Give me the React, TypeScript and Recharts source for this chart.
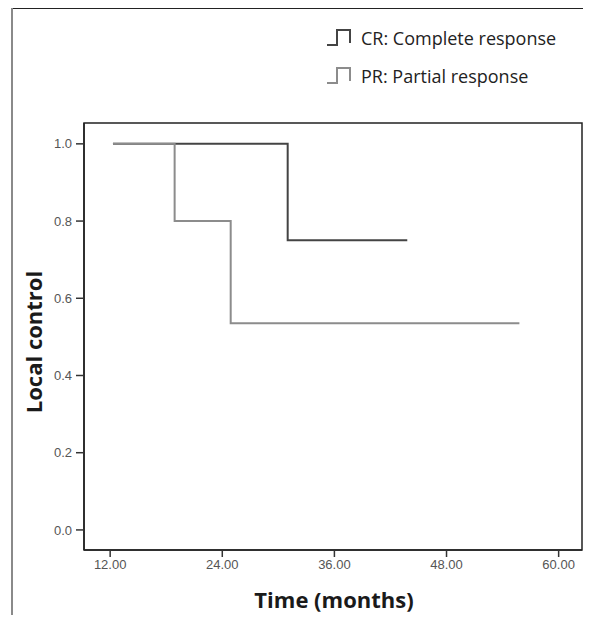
import { LineChart, Line, XAxis, YAxis, ReferenceArea } from 'recharts';

// survival steps (months, proportion)
const crTimes = [12.3, 31.0, 43.8];
const crValues = [1.0, 0.75, 0.75];
const prTimes = [12.3, 18.9, 24.9, 55.8];
const prValues = [1.0, 0.8, 0.535, 0.535];

const xTicks = [12, 24, 36, 48, 60];
const yTicks = [0, 0.2, 0.4, 0.6, 0.8, 1.0];

const X_DOMAIN: [number, number] = [9.2, 62.5];
const Y_DOMAIN: [number, number] = [-0.052, 1.054];

const crData = crTimes.map((t, i) => ({ t, v: crValues[i] }));
const prData = prTimes.map((t, i) => ({ t, v: prValues[i] }));

const CR_COLOR = '#444444';
const PR_COLOR = '#8c8c8c';

function StepIcon({ color }: { color: string }) {
  return (
    <svg width={26} height={18} style={{ display: 'block' }}>
      <polyline
        points="1,16 11,16 11,1 24,1 24,14"
        fill="none"
        stroke={color}
        strokeWidth={2}
      />
    </svg>
  );
}

export default function App() {
  const tickStyle = { fill: '#555', fontSize: 13, fontFamily: 'Liberation Sans, Arial, sans-serif' };
  const legendStyle = {
    position: 'absolute' as const,
    left: 326,
    display: 'flex',
    alignItems: 'center',
    fontFamily: 'Open Sans, sans-serif',
    fontSize: 18,
    color: '#222',
  };
  return (
    <div style={{ position: 'relative', width: 591, height: 623, margin: -8, background: '#fff', overflow: 'hidden' }}>
      {/* frame lines */}
      <div style={{ position: 'absolute', left: 12, top: 8, width: 579, height: 1, background: '#222' }} />
      <div style={{ position: 'absolute', left: 11, top: 8, width: 2, height: 615, background: '#8a8a8a' }} />

      <LineChart
        width={591}
        height={623}
        margin={{ top: 123, right: 9, bottom: 43, left: 44 }}
        style={{ position: 'absolute', left: 0, top: 0 }}
      >
        <XAxis
          type="number"
          dataKey="t"
          domain={X_DOMAIN}
          ticks={xTicks}
          tickFormatter={(v: number) => v.toFixed(2)}
          tick={tickStyle}
          tickSize={7}
          tickMargin={3}
          height={30}
          allowDataOverflow
          axisLine={{ stroke: '#222', strokeWidth: 1.5 }}
          tickLine={{ stroke: '#333', strokeWidth: 1.5 }}
        />
        <YAxis
          type="number"
          dataKey="v"
          domain={Y_DOMAIN}
          ticks={yTicks}
          tickFormatter={(v: number) => v.toFixed(1)}
          tick={tickStyle}
          tickSize={8}
          tickMargin={4}
          width={40}
          allowDataOverflow
          axisLine={{ stroke: '#222', strokeWidth: 1.5 }}
          tickLine={{ stroke: '#333', strokeWidth: 1.5 }}
        />
        <ReferenceArea
          x1={X_DOMAIN[0]}
          x2={X_DOMAIN[1]}
          y1={Y_DOMAIN[0]}
          y2={Y_DOMAIN[1]}
          fill="none"
          stroke="#222"
          strokeWidth={1.5}
        />
        <Line
          data={crData}
          dataKey="v"
          type="stepAfter"
          stroke={CR_COLOR}
          strokeWidth={2}
          dot={false}
          isAnimationActive={false}
        />
        <Line
          data={prData}
          dataKey="v"
          type="stepAfter"
          stroke={PR_COLOR}
          strokeWidth={2}
          dot={false}
          isAnimationActive={false}
        />
      </LineChart>

      {/* legend */}
      <div style={{ ...legendStyle, top: 26 }}>
        <StepIcon color={CR_COLOR} />
        <span style={{ marginLeft: 9 }}>CR: Complete response</span>
      </div>
      <div style={{ ...legendStyle, top: 64 }}>
        <StepIcon color={PR_COLOR} />
        <span style={{ marginLeft: 9 }}>PR: Partial response</span>
      </div>

      {/* axis titles */}
      <div style={{ position: 'absolute', left: 234, width: 200, top: 584, textAlign: 'center', fontFamily: 'Open Sans, sans-serif', fontWeight: 700, fontSize: 22, color: '#1a1a1a' }}>
        Time (months)
      </div>
      <div style={{ position: 'absolute', left: 33, top: 342, width: 200, marginLeft: -100, marginTop: -15, textAlign: 'center', transform: 'rotate(-90deg)', fontFamily: 'Open Sans, sans-serif', fontWeight: 700, fontSize: 22, lineHeight: '30px', color: '#1a1a1a' }}>
        Local control
      </div>
    </div>
  );
}
